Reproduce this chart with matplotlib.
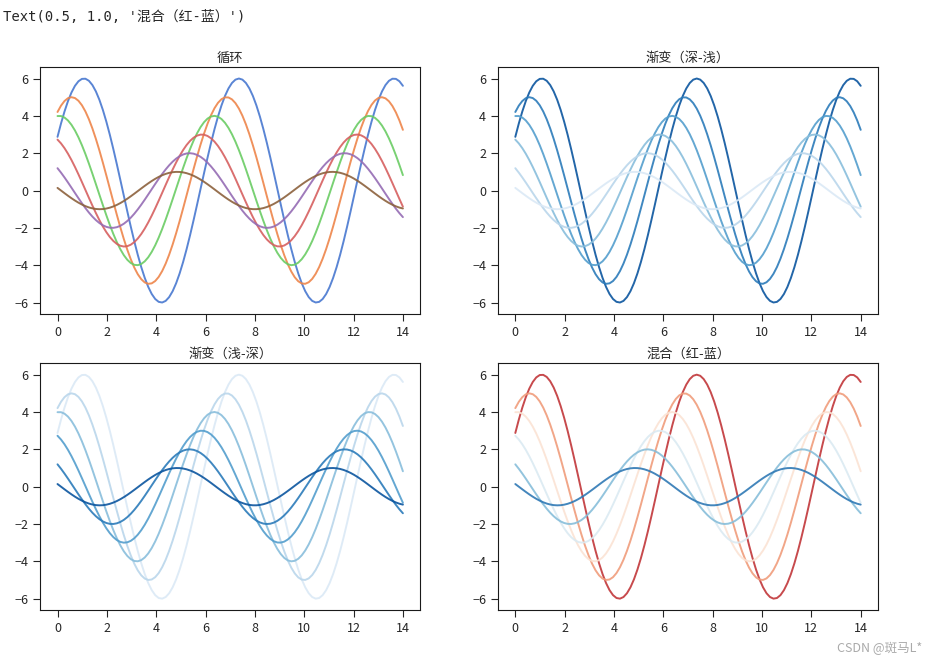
import numpy as np
import matplotlib
matplotlib.use("Agg")
import matplotlib.pyplot as plt
import seaborn as sns

# curve parameters: y = amplitude * sin(x + phase)
x_start, x_end, n_points = 0, 14, 100
amplitudes = [6, 5, 4, 3, 2, 1]
phases = [0.5, 1.0, 1.5, 2.0, 2.5, 3.0]

titles = ["循环", "渐变（深-浅）", "渐变（浅-深）", "混合（红-蓝）"]
palettes = ["muted", "Blues_r", "Blues", "RdBu"]

sns.set_style("ticks")
plt.rcParams["font.family"] = ["Noto Sans CJK SC", "DejaVu Sans"]
plt.rcParams["font.size"] = 9

x = np.linspace(x_start, x_end, n_points)

fig, axes = plt.subplots(2, 2, figsize=(9.36, 6.6), dpi=100)
fig.subplots_adjust(left=0.043, right=0.938, top=0.898, bottom=0.076,
                    wspace=0.205, hspace=0.202)

for ax, title, pal in zip(axes.flat, titles, palettes):
    colors = sns.color_palette(pal, len(amplitudes))
    for amp, ph, c in zip(amplitudes, phases, colors):
        ax.plot(x, amp * np.sin(x + ph), color=c, linewidth=1.4, alpha=0.9)
    ax.set_title(title, fontsize=9.5, pad=4)
    ax.set_xticks(range(0, 15, 2))
    ax.set_yticks(range(-6, 7, 2))
    ax.tick_params(labelsize=9, length=5, colors=".15")
    for s in ax.spines.values():
        s.set_color(".1")

fig.text(0.003, 0.985, "Text(0.5, 1.0, '混合（红-蓝）')", ha="left", va="top",
         fontsize=10, family=["DejaVu Sans Mono", "Noto Sans CJK SC"])
fig.text(0.985, 0.008, "CSDN @斑马L*", ha="right", va="bottom",
         fontsize=9, color="#aaaaaa")

fig.savefig("out.png", dpi=100)
